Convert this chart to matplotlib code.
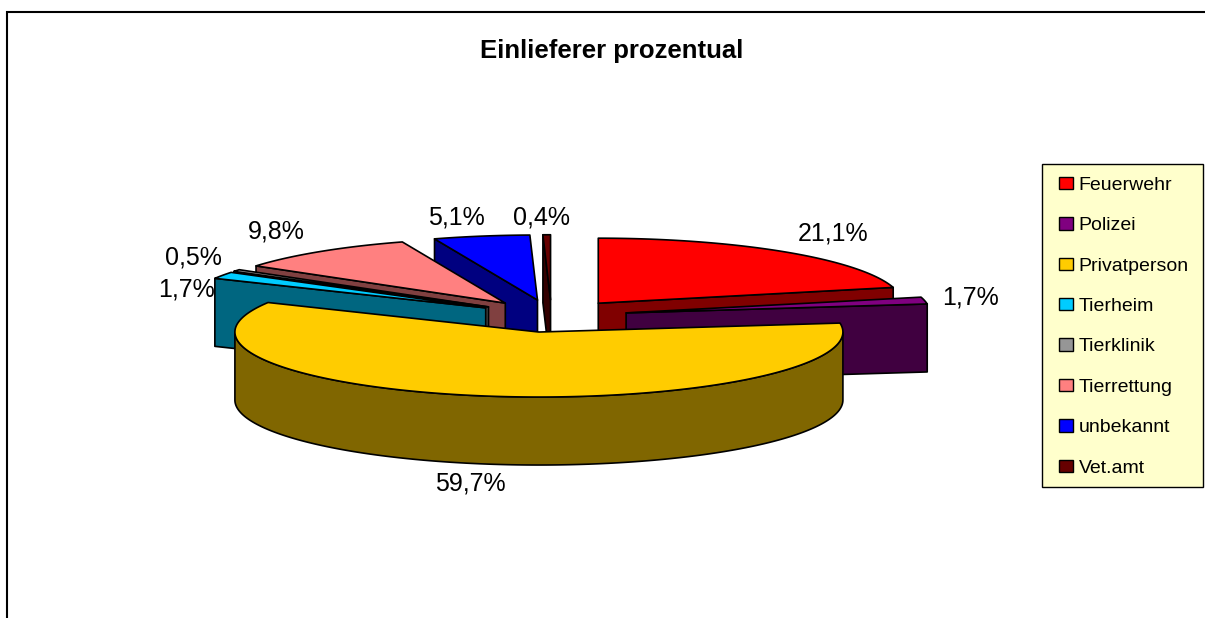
import numpy as np
import matplotlib
matplotlib.use("Agg")
import matplotlib.pyplot as plt
from matplotlib.patches import Polygon, Rectangle, Patch
from matplotlib.colors import to_rgb

# ---- data ----
categories = ["Feuerwehr", "Polizei", "Privatperson", "Tierheim",
              "Tierklinik", "Tierrettung", "unbekannt", "Vet.amt"]
values = [21.1, 1.7, 59.7, 1.7, 0.5, 9.8, 5.1, 0.4]
colors = ["#FF0000", "#800080", "#FFCC00", "#00CCFF",
          "#969696", "#FF8080", "#0000FF", "#660000"]
title = "Einlieferer prozentual"

# ---- layout (pixels of the 1205x618 picture) ----
W, H = 1205, 618
CX, CY = 551.5, 316.0
RX, RY = 304.0, 65.0
DEPTH = 68.0
EXPLODE = 0.25
LABEL_XY = [(833, 233), (970, 298), (470, 484), (186, 290),
            (193, 258), (276, 232), (456, 218), (542, 217)]

plt.rcParams["font.family"] = ["Liberation Sans", "DejaVu Sans"]
fig = plt.figure(figsize=(W / 100, H / 100), dpi=100, facecolor="white")
ax = fig.add_axes([0, 0, 1, 1])
ax.set_xlim(0, W)
ax.set_ylim(H, 0)
ax.axis("off")

# chart frame
ax.plot([7, 7, W], [H, 12, 12], color="black", lw=1.5, solid_joinstyle="miter", zorder=1)


def pt(apex, deg, depth=0.0):
    t = np.radians(deg)
    return apex[0] + RX * np.sin(t), apex[1] - RY * np.cos(t) + depth


def dark(c):
    return tuple(v * 0.5 for v in to_rgb(c))


angles = np.concatenate([[0.0], np.cumsum(values) / np.sum(values) * 360.0])
slices = []
for i in range(len(values)):
    a0, a1 = angles[i], angles[i + 1]
    mid = np.radians((a0 + a1) / 2)
    apex = (CX + EXPLODE * RX * np.sin(mid), CY - EXPLODE * RY * np.cos(mid))
    slices.append((apex[1], a0, a1, apex, colors[i]))
slices.sort(key=lambda s: s[0])

edge = dict(edgecolor="black", linewidth=1.2, joinstyle="round")
z = 2
for _, a0, a1, apex, col in slices:
    wall = dark(col)
    # cut faces turned towards the viewer
    for deg, visible in ((a0, np.sin(np.radians(a0)) < -1e-9),
                         (a1, np.sin(np.radians(a1)) > 1e-9)):
        if visible:
            q = pt(apex, deg)
            face = [apex, q, (q[0], q[1] + DEPTH), (apex[0], apex[1] + DEPTH)]
            ax.add_patch(Polygon(face, closed=True, facecolor=wall, zorder=z, **edge))
            z += 1
    # outer rim
    r0, r1 = max(a0, 90.0), min(a1, 270.0)
    if r1 > r0:
        th = np.linspace(r0, r1, 200)
        top = [pt(apex, d) for d in th]
        bot = [pt(apex, d, DEPTH) for d in th[::-1]]
        ax.add_patch(Polygon(top + bot, closed=True, facecolor=wall, zorder=z, **edge))
        z += 1
    # top surface
    th = np.linspace(a0, a1, max(4, int(a1 - a0) * 3))
    ax.add_patch(Polygon([apex] + [pt(apex, d) for d in th], closed=True,
                         facecolor=col, zorder=z, **edge))
    z += 1

# data labels
for (x, y), v in zip(LABEL_XY, values):
    ax.text(x, y, f"{v:.1f}%".replace(".", ","), ha="center", va="center",
            fontsize=18, color="black", zorder=50)

ax.text(612, 51, title, ha="center", va="center", fontsize=18.5, fontweight="bold", zorder=50)

# legend
ax.add_patch(Rectangle((1042, 164), 161, 323, facecolor="#FFFFCC", edgecolor="black",
                       linewidth=1.0, zorder=40))
handles = [Patch(facecolor=c, edgecolor="black", linewidth=1.0) for c in colors]
leg = ax.legend(handles, categories, loc="upper left", frameon=False,
                bbox_to_anchor=(1059 / W, 1 - 177 / H), bbox_transform=fig.transFigure,
                borderpad=0, borderaxespad=0, fontsize=14, labelspacing=1.2,
                handlelength=0.72, handleheight=0.6, handletextpad=0.3)
leg.set_zorder(45)

fig.savefig("out.png", dpi=100, facecolor="white")
